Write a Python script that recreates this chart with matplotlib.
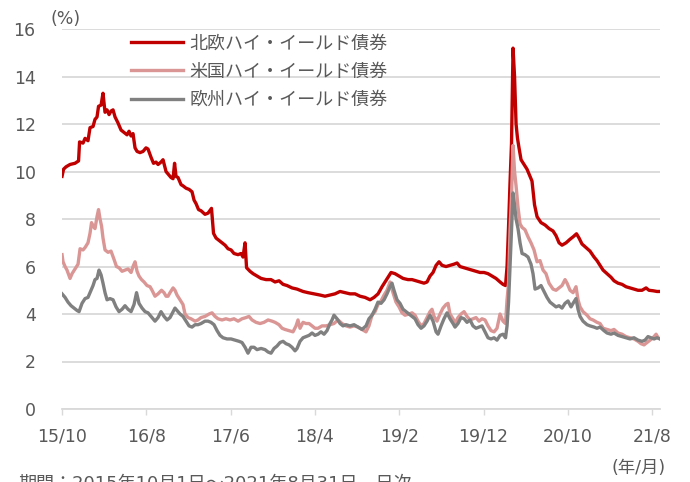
import matplotlib
matplotlib.use("Agg")
import matplotlib.pyplot as plt

plt.rcParams['font.family'] = ['DejaVu Sans', 'Noto Sans CJK JP']

# months elapsed since 2015/10/1 and yield (%)
nordic_t = [0, 0.18, 0.47, 0.95, 1.54, 1.96, 2.08, 2.49, 2.73, 3.08, 3.32, 3.68, 3.91, 4.15, 4.33, 4.63,
            4.86, 5.1, 5.34, 5.58, 5.81, 6.05, 6.29, 6.64, 7.0, 7.35, 7.71, 7.95, 8.19, 8.42, 8.66, 8.9,
            9.25, 9.61, 9.96, 10.2, 10.56, 10.85, 11.15, 11.39, 11.74, 11.98, 12.34, 12.57, 12.93, 13.17,
            13.35, 13.52, 13.76, 14.12, 14.35, 14.71, 15.07, 15.42, 15.66, 15.9, 16.19, 16.49, 16.96,
            17.32, 17.73, 17.97, 18.27, 18.62, 18.98, 19.34, 19.69, 20.05, 20.4, 20.88, 21.23, 21.47,
            21.71, 21.89, 22.3, 22.66, 23.13, 23.61, 24.2, 24.79, 25.27, 25.74, 26.22, 26.69, 27.28,
            27.88, 28.59, 29.18, 29.89, 30.6, 31.2, 31.79, 32.38, 32.98, 33.57, 34.16, 34.76, 35.35,
            35.94, 36.54, 37.01, 37.49, 37.96, 38.32, 38.67, 39.03, 39.5, 39.98, 40.45, 41.04, 41.52,
            41.99, 42.47, 42.94, 43.3, 43.65, 44.01, 44.37, 44.72, 45.08, 45.55, 46.02, 46.5, 46.86,
            47.21, 47.69, 48.16, 48.64, 49.11, 49.58, 50.06, 50.53, 51.01, 51.48, 51.96, 52.31, 52.61,
            52.79, 52.97, 53.14, 53.32, 53.5, 53.68, 53.86, 54.03, 54.21, 54.45, 54.8, 55.16, 55.52,
            55.75, 56.05, 56.35, 56.82, 57.3, 57.77, 58.24, 58.6, 58.96, 59.31, 59.79, 60.26, 60.62,
            61.03, 61.33, 61.68, 62.16, 62.63, 63.11, 63.46, 63.82, 64.18, 64.65, 65.12, 65.48, 65.95,
            66.43, 66.9, 67.38, 67.85, 68.33, 68.8, 69.28, 69.63, 70.11, 70.58, 70.94]
nordic = [9.8, 10.1, 10.2, 10.3, 10.35, 10.45, 11.25, 11.2, 11.4, 11.3, 11.85, 11.9, 12.2, 12.3, 12.75, 12.8,
          13.3, 12.5, 12.6, 12.4, 12.55, 12.6, 12.3, 12.05, 11.75, 11.65, 11.55, 11.7, 11.5, 11.6, 11.0, 10.85,
          10.8, 10.85, 11.0, 10.95, 10.6, 10.35, 10.4, 10.3, 10.4, 10.5, 10.0, 9.9, 9.75, 9.7,
          10.35, 9.8, 9.75, 9.45, 9.4, 9.3, 9.25, 9.15, 8.8, 8.65, 8.4, 8.35, 8.2,
          8.25, 8.45, 7.4, 7.2, 7.1, 7.0, 6.9, 6.75, 6.7, 6.55, 6.5, 6.55, 6.4,
          7.0, 5.95, 5.8, 5.7, 5.6, 5.5, 5.45, 5.45, 5.35, 5.4, 5.25, 5.2, 5.1,
          5.05, 4.95, 4.9, 4.85, 4.8, 4.75, 4.8, 4.85, 4.95, 4.9, 4.85, 4.85, 4.75,
          4.7, 4.6, 4.7, 4.85, 5.15, 5.35, 5.55, 5.75, 5.7, 5.6, 5.5, 5.45, 5.45,
          5.4, 5.35, 5.3, 5.35, 5.6, 5.75, 6.05, 6.2, 6.05, 6.0, 6.05, 6.1, 6.15,
          6.0, 5.95, 5.9, 5.85, 5.8, 5.75, 5.75, 5.7, 5.6, 5.5, 5.35, 5.25, 5.2,
          6.0, 7.7, 9.5, 11.2, 15.2, 14.0, 12.0, 11.4, 11.0, 10.5, 10.3, 10.1, 9.8,
          9.6, 8.6, 8.1, 7.85, 7.75, 7.6, 7.5, 7.3, 7.0, 6.9, 7.0, 7.15, 7.25,
          7.38, 7.2, 6.95, 6.8, 6.65, 6.4, 6.25, 6.05, 5.85, 5.7, 5.55, 5.4, 5.3,
          5.25, 5.15, 5.1, 5.05, 5.0, 5.0, 5.1, 5.0, 4.98, 4.95, 4.95]

us_t = [0, 0.12, 0.36, 0.59, 0.95, 1.19, 1.54, 1.9, 2.14, 2.49, 2.73, 3.08, 3.32, 3.5, 3.68, 3.91, 4.15,
        4.33, 4.51, 4.69, 4.86, 5.1, 5.46, 5.81, 6.17, 6.46, 6.76, 7.12, 7.47, 7.83, 8.19, 8.42, 8.66,
        8.9, 9.13, 9.43, 9.73, 10.08, 10.44, 10.68, 11.03, 11.39, 11.8, 12.1, 12.34, 12.57, 12.81, 13.17,
        13.4, 13.64, 14.0, 14.35, 14.59, 14.95, 15.3, 15.78, 16.13, 16.49, 16.96, 17.44, 17.79, 18.15,
        18.5, 18.98, 19.45, 19.93, 20.4, 20.88, 21.35, 21.82, 22.18, 22.54, 23.01, 23.49, 23.96, 24.44,
        24.91, 25.27, 25.74, 26.1, 26.45, 26.93, 27.4, 27.76, 27.99, 28.23, 28.59, 28.94, 29.3, 29.66,
        30.01, 30.37, 30.84, 31.32, 31.79, 32.26, 32.74, 33.21, 33.69, 34.16, 34.64, 35.11, 35.58,
        36.06, 36.41, 36.77, 37.13, 37.48, 37.84, 38.2, 38.55, 38.91, 39.26, 39.62, 39.98, 40.33,
        40.69, 41.16, 41.52, 41.87, 42.23, 42.59, 42.94, 43.3, 43.65, 43.89, 44.13, 44.48, 44.84,
        45.19, 45.55, 45.79, 46.02, 46.38, 46.62, 46.97, 47.33, 47.69, 48.04, 48.4, 48.75, 49.11,
        49.47, 49.82, 50.18, 50.53, 50.89, 51.25, 51.6, 51.96, 52.31, 52.61, 52.79, 52.97, 53.14,
        53.32, 53.5, 53.68, 53.86, 54.09, 54.33, 54.57, 54.92, 55.28, 55.63, 55.99, 56.35, 56.7,
        57.06, 57.41, 57.77, 58.24, 58.6, 58.96, 59.31, 59.67, 59.91, 60.26, 60.62, 60.97, 61.21,
        61.45, 61.8, 62.28, 62.63, 62.99, 63.46, 63.82, 64.18, 64.65, 65.12, 65.48, 65.95, 66.43,
        66.9, 67.38, 67.85, 68.33, 68.68, 69.04, 69.4, 69.75, 70.11, 70.47, 70.71, 70.94]
us = [6.5, 6.2, 6.0, 5.85, 5.5, 5.7, 5.9, 6.1, 6.75, 6.7, 6.8, 7.0, 7.4, 7.85, 7.7, 7.6, 8.1,
      8.4, 8.0, 7.7, 7.2, 6.7, 6.6, 6.65, 6.3, 6.0, 5.95, 5.8, 5.85, 5.9, 5.75, 6.0, 6.2,
      5.8, 5.6, 5.45, 5.35, 5.2, 5.15, 5.0, 4.75, 4.85, 5.0, 4.9, 4.75, 4.75, 4.9, 5.1,
      5.0, 4.8, 4.6, 4.4, 4.0, 3.85, 3.8, 3.7, 3.75, 3.85, 3.9, 4.0, 4.05, 3.9,
      3.8, 3.75, 3.8, 3.75, 3.8, 3.7, 3.8, 3.85, 3.9, 3.75, 3.65, 3.6, 3.65, 3.75,
      3.7, 3.65, 3.55, 3.4, 3.35, 3.3, 3.25, 3.5, 3.75, 3.4, 3.65, 3.6, 3.6, 3.5,
      3.4, 3.4, 3.5, 3.5, 3.55, 3.6, 3.75, 3.6, 3.5, 3.45, 3.5, 3.45, 3.35,
      3.25, 3.5, 3.95, 4.1, 4.4, 4.55, 4.8, 5.0, 5.35, 4.9, 4.5, 4.3, 4.05,
      3.95, 4.0, 4.05, 3.95, 3.7, 3.5, 3.6, 3.85, 4.1, 4.2, 3.9, 3.7, 4.0,
      4.25, 4.4, 4.45, 4.0, 3.8, 3.6, 3.85, 4.0, 4.1, 3.9, 3.75, 3.8, 3.85,
      3.7, 3.8, 3.75, 3.5, 3.3, 3.25, 3.4, 4.0, 3.7, 3.6, 4.6, 5.3, 7.5,
      9.0, 11.1, 10.0, 9.4, 8.5, 7.8, 7.65, 7.55, 7.25, 7.0, 6.7, 6.2, 6.25,
      5.85, 5.7, 5.3, 5.05, 5.0, 5.1, 5.2, 5.45, 5.3, 5.0, 4.9, 5.15, 4.6,
      4.3, 4.1, 3.95, 3.8, 3.75, 3.65, 3.6, 3.4, 3.35, 3.3, 3.35, 3.2, 3.15,
      3.05, 3.0, 2.95, 2.85, 2.75, 2.7, 2.8, 2.9, 3.0, 3.15, 3.0, 2.95]

euro_t = [0, 0.36, 0.71, 1.07, 1.42, 1.78, 2.02, 2.37, 2.73, 3.08, 3.44, 3.68, 3.91, 4.15, 4.39, 4.63,
          4.86, 5.1, 5.34, 5.69, 6.05, 6.41, 6.76, 7.12, 7.47, 7.83, 8.19, 8.54, 8.84, 9.13, 9.49, 9.85,
          10.2, 10.56, 11.03, 11.39, 11.74, 12.1, 12.46, 12.81, 13.17, 13.4, 13.64, 14.0, 14.35, 14.71,
          15.07, 15.42, 15.78, 16.13, 16.49, 16.96, 17.32, 17.67, 18.03, 18.39, 18.74, 19.1, 19.57,
          20.05, 20.52, 21.0, 21.35, 21.71, 22.06, 22.42, 22.78, 23.13, 23.61, 24.08, 24.44, 24.79,
          25.15, 25.5, 25.86, 26.22, 26.57, 26.93, 27.28, 27.64, 27.88, 28.23, 28.59, 28.94, 29.3,
          29.66, 30.01, 30.37, 30.72, 31.08, 31.43, 31.79, 32.03, 32.26, 32.62, 32.98, 33.33, 33.69,
          34.16, 34.64, 35.11, 35.58, 36.06, 36.41, 36.77, 37.13, 37.48, 37.84, 38.2, 38.55, 38.91,
          39.14, 39.38, 39.74, 40.09, 40.45, 40.8, 41.16, 41.52, 41.87, 42.23, 42.59, 42.94, 43.3,
          43.65, 44.01, 44.37, 44.6, 44.96, 45.31, 45.67, 46.02, 46.38, 46.62, 46.97, 47.33, 47.69,
          48.04, 48.4, 48.75, 49.11, 49.47, 49.82, 50.18, 50.53, 50.89, 51.25, 51.6, 51.96, 52.31,
          52.61, 52.79, 52.97, 53.14, 53.32, 53.5, 53.68, 53.86, 54.09, 54.33, 54.57, 54.92, 55.28,
          55.63, 55.87, 56.11, 56.47, 56.82, 57.18, 57.53, 57.89, 58.24, 58.6, 58.96, 59.31, 59.67,
          60.02, 60.38, 60.62, 60.97, 61.21, 61.45, 61.8, 62.28, 62.63, 63.11, 63.46, 63.82, 64.29,
          64.65, 65.12, 65.48, 65.95, 66.43, 66.9, 67.38, 67.85, 68.33, 68.8, 69.16, 69.51, 69.87,
          70.23, 70.58, 70.94]
euro = [4.85, 4.7, 4.5, 4.35, 4.25, 4.15, 4.1, 4.45, 4.65, 4.7, 5.0, 5.2, 5.45, 5.5, 5.85, 5.65,
        5.3, 4.9, 4.6, 4.65, 4.6, 4.3, 4.1, 4.2, 4.35, 4.2, 4.1, 4.4, 4.9, 4.45, 4.25, 4.1,
        4.05, 3.9, 3.7, 3.85, 4.1, 3.9, 3.75, 3.85, 4.1, 4.25, 4.15, 4.0, 3.9, 3.7,
        3.5, 3.45, 3.55, 3.55, 3.6, 3.7, 3.7, 3.65, 3.55, 3.3, 3.1, 3.0, 2.95,
        2.95, 2.9, 2.85, 2.8, 2.6, 2.35, 2.6, 2.6, 2.5, 2.55, 2.5, 2.4, 2.35,
        2.55, 2.65, 2.8, 2.85, 2.75, 2.7, 2.6, 2.45, 2.55, 2.85, 3.0, 3.05, 3.1,
        3.2, 3.1, 3.15, 3.25, 3.15, 3.3, 3.6, 3.75, 3.95, 3.8, 3.6, 3.5, 3.55,
        3.5, 3.55, 3.45, 3.35, 3.5, 3.8, 3.95, 4.2, 4.5, 4.45, 4.6, 4.85, 5.15,
        5.3, 5.0, 4.6, 4.45, 4.2, 4.1, 4.0, 3.9, 3.8, 3.55, 3.4, 3.5, 3.7,
        3.95, 3.7, 3.25, 3.15, 3.5, 3.8, 4.05, 3.8, 3.6, 3.45, 3.6, 3.85, 3.8,
        3.65, 3.75, 3.5, 3.4, 3.45, 3.5, 3.25, 3.0, 2.95, 3.0, 2.9, 3.1, 3.15,
        3.0, 3.5, 4.5, 6.0, 7.5, 9.1, 8.6, 8.0, 7.6, 7.0, 6.55, 6.5, 6.4,
        6.1, 5.7, 5.05, 5.1, 5.2, 4.95, 4.7, 4.5, 4.4, 4.3, 4.35, 4.25, 4.45,
        4.55, 4.3, 4.45, 4.65, 4.2, 3.9, 3.7, 3.55, 3.5, 3.45, 3.4, 3.45, 3.3,
        3.2, 3.15, 3.2, 3.1, 3.05, 3.0, 2.95, 3.0, 2.9, 2.85, 2.9, 3.05, 3.0,
        2.95, 3.0, 2.95]

labels = ['北欧ハイ・イールド債券', '米国ハイ・イールド債券', '欧州ハイ・イールド債券']
colors = ['#C00000', '#DA9694', '#808080']
tick_pos = [0, 10, 20, 30, 40, 50, 60, 70]
tick_labels = ['15/10', '16/8', '17/6', '18/4', '19/2', '19/12', '20/10', '21/8']

fig = plt.figure(figsize=(6.9, 4.82), dpi=100)
ax = fig.add_axes([0.0899, 0.1515, 0.8667, 0.788])

for t, v, lab, c in zip([nordic_t, us_t, euro_t], [nordic, us, euro], labels, colors):
    ax.plot(t, v, color=c, lw=2.4, label=lab, solid_joinstyle='round')

ax.set_xlim(0, 70.94)
ax.set_ylim(0, 16)
ax.set_yticks(range(0, 17, 2))
ax.set_xticks(tick_pos)
ax.set_xticklabels(tick_labels)
ax.grid(axis='y', color='#D9D9D9', lw=1.3)
ax.set_axisbelow(True)
for s in ['top', 'right', 'left']:
    ax.spines[s].set_visible(False)
ax.spines['bottom'].set_color('#D9D9D9')
ax.spines['bottom'].set_linewidth(1.3)
ax.tick_params(axis='y', length=0, pad=19, labelsize=12.5, labelcolor='#595959')
ax.tick_params(axis='x', length=4, width=1, color='#D9D9D9', pad=9, labelsize=12.5, labelcolor='#595959')

fig.legend(loc='upper left', bbox_to_anchor=(0.19, 0.928), frameon=False, fontsize=13,
           handlelength=2.85, handletextpad=0.4, labelspacing=0.56, borderpad=0, borderaxespad=0,
           labelcolor='#595959')

fig.text(66 / 690, 1 - 19 / 482, '(%)', ha='center', va='center', fontsize=12.5, color='#595959')
fig.text(666 / 690, 1 - 468 / 482, '(年/月)', ha='right', va='center', fontsize=12.5, color='#595959')
fig.text(18 / 690, 1 - 475 / 482, '期間：2015年10月1日～2021年8月31日、日次', ha='left', va='top',
         fontsize=13, color='#595959')

fig.savefig('out.png', dpi=100)
